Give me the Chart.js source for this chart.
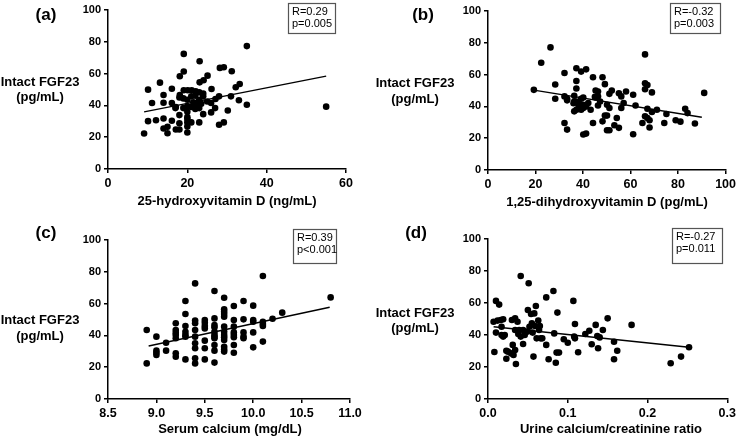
<!DOCTYPE html>
<html>
<head>
<meta charset="utf-8">
<script src="https://cdn.jsdelivr.net/npm/chart.js@4.4.1/dist/chart.umd.min.js"></script>
<style>
  html, body { margin: 0; padding: 0; background: #fff; }
  #wrap { position: relative; width: 739px; height: 438px; }
  #wrap canvas { position: absolute; left: 0; top: 0; }
</style>
</head>
<body>
<div id="wrap">
  <canvas id="chartA" width="739" height="438"></canvas>
  <canvas id="chartB" width="739" height="438"></canvas>
  <canvas id="chartC" width="739" height="438"></canvas>
  <canvas id="chartD" width="739" height="438"></canvas>
</div>
<script>
// ---- data ----
const fgfTicks = [0, 20, 40, 60, 80, 100];

// (a) 25-hydroxyvitamin D vs intact FGF23
const vitD25 = [9.1, 10.1, 10.1, 11.1, 12.1, 13.1, 14, 14, 14, 14, 15, 15, 16.1, 16.1, 16.1, 17.1, 17, 17.1,
  18.1, 18.1, 18, 18, 18, 18, 19.1, 19.1, 19.1, 19, 19, 20.1, 20, 20, 20, 20, 20, 20, 20, 20,
  21.1, 21, 21, 21, 22.1, 22, 22, 22, 22, 23.1, 23.1, 23, 23, 23, 23, 23, 24.1, 24, 24, 25.1, 25,
  26.1, 26, 26, 27.1, 27, 28.2, 28, 28, 29.2, 29.2, 30.2, 31.2, 31, 32.2, 33.2, 33, 35, 35, 55,
  22.5, 21.5, 23.5, 22.5, 24];
const fgfA = [22.3, 49.9, 30.1, 41.5, 30.7, 54.3, 46.5, 41.7, 31.8, 25.5, 26.5, 22.5, 50.5, 41.5, 30.3, 39, 38.3, 24.8,
  58.3, 46.5, 45, 33.9, 28.8, 24.8, 72.4, 61.3, 49.5, 44.4, 38.3, 49.5, 43.6, 39.4, 36, 32.6, 31.4, 29.3, 26.7, 23,
  49.5, 45.7, 39, 29.3, 48.8, 46.1, 41.5, 39, 37.7, 67.8, 54.5, 48.2, 43.6, 40.4, 38.3, 29.3, 55.8, 45.7, 34.5, 58.7, 42.5,
  50.3, 41.5, 35.6, 44, 38.3, 63.6, 45.7, 27.8, 64, 29.3, 36.8, 61.5, 45.7, 51.4, 53.5, 43.2, 77.3, 40.4, 39.2,
  41, 42, 41, 39.5, 47.5];
const vitD25Ticks = [0, 20, 40, 60];
const trendAX = [9.1, 55];
const trendAY = [35.9, 58.4];

// (b) 1,25-dihydroxyvitamin D vs intact FGF23
const vitD125 = [19.3, 22.4, 26.3, 28.3, 28.3, 32.2, 32.2, 32.2, 33.3, 33.3, 33.3, 36.3, 36.3, 36.3,
  37.2, 37.2, 37.2, 37.2, 37.2, 38.2, 38.2, 39.2, 39.2, 39.2, 40.1, 40.1, 40.1, 41.3, 41.3, 41.3, 42.2, 43.2,
  44.2, 44.2, 45.3, 45.3, 46.3, 46.3, 46.3, 47.2, 48.2, 48.2, 49.2, 49.2, 50.1, 50.1, 50.1, 51.1, 51.1, 51.1,
  52.1, 53.2, 54.2, 55.1, 55.1, 56.1, 56.1, 57.1, 58.1, 61.1, 61.1, 62.1, 65, 66.1, 66.1, 66.1, 66.1,
  67.1, 67.1, 67.1, 68, 68, 69, 69, 71.1, 74.2, 75.1, 79, 81, 83, 84, 87.1, 91, 36, 40, 45];
const fgfB = [50.4, 67.5, 77.1, 53.8, 44.8, 61, 46.3, 29.6, 44.8, 43.8, 25.4, 46.7, 43.1, 36.9,
  64, 56, 51.3, 43.1, 37.9, 42.1, 40, 61.9, 44.8, 37.9, 45.6, 39, 22.3, 63.3, 40, 22.9, 42.1, 37.9,
  58.3, 29.6, 50, 45.6, 49.4, 46.3, 40.6, 43.1, 58.3, 30.6, 54, 34.2, 34.2, 25, 41, 47.9, 39, 25,
  50, 28.1, 32.7, 48.3, 26.5, 46.3, 39, 42.1, 49.4, 47.3, 22.5, 40.6, 29.6, 72.7, 54.6, 50.8, 33.8,
  53.5, 38.5, 32.7, 31.3, 26.7, 48.8, 36.5, 37.9, 29.6, 35.2, 31.3, 30.4, 38.5, 35.8, 29.2, 48.5, 42, 41, 46];
const vitD125Ticks = [0, 20, 40, 60, 80, 100];
const trendBX = [19.3, 90];
const trendBY = [50.2, 33.2];

// (c) serum calcium vs intact FGF23
const serumCa = [8.9, 8.9, 9.0, 9.0, 9.0, 9.0, 9.1, 9.1,
  9.2, 9.2, 9.2, 9.2, 9.2, 9.2, 9.2, 9.3, 9.3, 9.3, 9.3, 9.3, 9.3, 9.3,
  9.4, 9.4, 9.4, 9.4, 9.4, 9.4, 9.4, 9.4, 9.4, 9.5, 9.5, 9.5, 9.5, 9.5, 9.5, 9.5,
  9.6, 9.6, 9.6, 9.6, 9.6, 9.6, 9.6, 9.6, 9.6, 9.6, 9.6,
  9.7, 9.7, 9.7, 9.7, 9.7, 9.7, 9.7, 9.7, 9.7, 9.7, 9.7, 9.7, 9.7,
  9.8, 9.8, 9.8, 9.8, 9.8, 9.8, 9.8, 9.8, 9.9, 9.9, 9.9, 9.9, 9.9,
  10.0, 10.0, 10.0, 10.0, 10.0, 10.1, 10.1, 10.1, 10.1, 10.1, 10.2, 10.3, 10.8];
const fgfC = [43.4, 22.4, 39.2, 30.4, 29.1, 27.7, 35.4, 30.4,
  47.6, 43.4, 41.7, 40.3, 38.2, 28.7, 26.6, 61.6, 53.5, 45.9, 42.3, 40.3, 39.2, 24.9,
  72.7, 49.3, 47.6, 43.4, 39.2, 35, 31.9, 25.6, 22.4, 49.7, 48, 45.9, 44.4, 36.7, 31.9, 24.9,
  67.9, 50.7, 46.5, 45.1, 42.3, 40.3, 39.2, 38.2, 34, 30.4, 22.9,
  63.7, 56.4, 54.9, 53.5, 51.8, 45.5, 42.3, 40.3, 38.8, 37.1, 32.9, 31.2, 29.8,
  58.5, 49.7, 45.5, 41.9, 40.3, 38.8, 34, 29.1, 61.6, 50.1, 41.9, 39.2, 38.2,
  58.7, 49.7, 48.6, 41.9, 32.5, 77.4, 48.6, 47.2, 45.9, 36.1, 50.5, 54.3, 63.9];
const serumCaTicks = [8.5, 9.0, 9.5, 10.0, 10.5, 11.0];
const trendCX = [8.92, 10.79];
const trendCY = [33.3, 57.7];

// (d) urine calcium/creatinine ratio vs intact FGF23
const urineRatio = [0.007, 0.008, 0.010, 0.010, 0.012, 0.014, 0.016, 0.017, 0.017, 0.019, 0.019, 0.021,
  0.023, 0.023, 0.025, 0.029, 0.030, 0.031, 0.032, 0.034, 0.034, 0.034, 0.035, 0.037, 0.038, 0.039,
  0.041, 0.041, 0.044, 0.044, 0.046, 0.049, 0.050, 0.051, 0.052, 0.054, 0.055, 0.056, 0.057, 0.058,
  0.059, 0.060, 0.061, 0.063, 0.064, 0.065, 0.066, 0.068, 0.073, 0.073, 0.076, 0.082, 0.083, 0.085,
  0.086, 0.087, 0.089, 0.095, 0.100, 0.107, 0.108, 0.109, 0.109, 0.113, 0.122, 0.127, 0.130, 0.135,
  0.137, 0.138, 0.140, 0.144, 0.150, 0.158, 0.158, 0.162, 0.180, 0.229, 0.242, 0.252];
const fgfD = [48.3, 29.4, 61.3, 41.5, 49, 59, 49.4, 45.2, 40, 49.8, 39, 40,
  30.2, 25.2, 29.6, 28.5, 49.4, 33.8, 27.5, 50.4, 43.1, 30.6, 21.9, 48.3, 40.6, 43.1,
  76.9, 39, 43.1, 34.4, 40, 42.1, 55.6, 72.3, 45.2, 53.1, 47.3, 41.5, 26.5, 53.5,
  45.6, 58.1, 37.9, 49, 43.1, 45.6, 37.9, 37.9, 33.8, 63.5, 24.8, 67.5, 41, 22.7,
  29, 54, 29, 37.3, 35.2, 61.3, 39, 46.9, 37.9, 29.2, 40.6, 42.7, 34.2, 46.3,
  39.4, 31.7, 38.5, 43.1, 50.4, 24.8, 35.8, 30.2, 46.3, 22.3, 26.5, 32.3];
const urineRatioTicks = [0.0, 0.1, 0.2, 0.3];
const trendDX = [0.007, 0.252];
const trendDY = [45.2, 32.3];

// ---- drawing ----
Chart.defaults.font.family = 'Arial, "Liberation Sans", Helvetica, sans-serif';
Chart.defaults.color = '#000';

const Y_AXIS_W = 40;
const X_AXIS_H = 30;
const W = 739, H = 438;

// per-panel text overlay (labels, axis titles, R/p box)
const panelText = {
  id: 'panelText',
  afterDraw(chart, args, o) {
    const ctx = chart.ctx;
    ctx.save();
    ctx.fillStyle = '#000';
    ctx.textBaseline = 'middle';
    ctx.textAlign = 'center';
    ctx.font = 'bold 17px Arial, "Liberation Sans", sans-serif';
    ctx.fillText(o.tag, o.tagX, o.tagY);
    ctx.font = 'bold 13px Arial, "Liberation Sans", sans-serif';
    ctx.fillText('Intact FGF23', o.yTitleX, o.yTitleY1);
    ctx.fillText('(pg/mL)', o.yTitleX, o.yTitleY2);
    ctx.fillText(o.xTitle, o.xTitleX, o.xTitleY);
    const b = o.box;
    ctx.strokeStyle = '#555';
    ctx.lineWidth = 1.2;
    ctx.strokeRect(b[0] + 0.5, b[1] + 0.5, b[2] - b[0], b[3] - b[1]);
    ctx.textAlign = 'left';
    ctx.font = '11px Arial, "Liberation Sans", sans-serif';
    ctx.fillText(o.r, b[0] + 4, b[1] + 9);
    ctx.fillText(o.p, b[0] + 4, b[1] + 21);
    ctx.restore();
  }
};

function makePanel(id, xs, ys, trendX, trendY, xTicks, area, digits, text) {
  const axisLine = { display: true, drawOnChartArea: false, drawTicks: true, tickLength: 4, color: '#000', lineWidth: 1.5 };
  new Chart(document.getElementById(id), {
    type: 'scatter',
    data: {
      datasets: [
        {
          data: xs.map((x, i) => ({ x: x, y: ys[i] })),
          backgroundColor: '#000',
          borderWidth: 0,
          pointRadius: 3.3,
          clip: false
        },
        {
          data: trendX.map((x, i) => ({ x: x, y: trendY[i] })),
          showLine: true,
          borderColor: '#000',
          borderWidth: 1.4,
          pointRadius: 0,
          clip: false
        }
      ]
    },
    options: {
      responsive: false,
      animation: false,
      events: [],
      layout: {
        padding: {
          left: area.left - Y_AXIS_W,
          top: area.top,
          right: W - area.right,
          bottom: H - area.bottom - X_AXIS_H
        }
      },
      scales: {
        x: {
          type: 'linear',
          min: xTicks[0],
          max: xTicks[xTicks.length - 1],
          afterFit: s => { s.height = X_AXIS_H; },
          afterBuildTicks: s => { s.ticks = xTicks.map(v => ({ value: v })); },
          grid: axisLine,
          border: { display: true, color: '#000', width: 1.5 },
          ticks: {
            padding: 3,
            maxRotation: 0,
            autoSkip: false,
            font: { size: 12.5, weight: 'bold' },
            callback: v => v.toFixed(digits)
          }
        },
        y: {
          type: 'linear',
          min: fgfTicks[0],
          max: fgfTicks[fgfTicks.length - 1],
          afterFit: s => { s.width = Y_AXIS_W; },
          afterBuildTicks: s => { s.ticks = fgfTicks.map(v => ({ value: v })); },
          grid: axisLine,
          border: { display: true, color: '#000', width: 1.5 },
          ticks: {
            padding: 3,
            autoSkip: false,
            font: { size: 11, weight: 'bold' }
          }
        }
      },
      plugins: {
        legend: { display: false },
        tooltip: { enabled: false },
        panelText: text
      }
    },
    plugins: [panelText]
  });
}

makePanel('chartA', vitD25, fgfA, trendAX, trendAY, vitD25Ticks,
  { left: 108, top: 10, right: 346, bottom: 169 }, 0,
  { tag: '(a)', tagX: 46, tagY: 15, yTitleX: 40, yTitleY1: 82, yTitleY2: 97,
    xTitle: '25-hydroxyvitamin D (ng/mL)', xTitleX: 227, xTitleY: 201,
    box: [288, 3, 335, 33], r: 'R=0.29', p: 'p=0.005' });

makePanel('chartB', vitD125, fgfB, trendBX, trendBY, vitD125Ticks,
  { left: 488, top: 11, right: 728, bottom: 170 }, 0,
  { tag: '(b)', tagX: 423, tagY: 15, yTitleX: 415, yTitleY1: 83, yTitleY2: 99,
    xTitle: '1,25-dihydroxyvitamin D (pg/mL)', xTitleX: 607, xTitleY: 202,
    box: [670, 3, 720, 33], r: 'R=-0.32', p: 'p=0.003' });

makePanel('chartC', serumCa, fgfC, trendCX, trendCY, serumCaTicks,
  { left: 108, top: 240, right: 350, bottom: 399 }, 1,
  { tag: '(c)', tagX: 46, tagY: 233, yTitleX: 40, yTitleY1: 320, yTitleY2: 336,
    xTitle: 'Serum calcium (mg/dL)', xTitleX: 230, xTitleY: 429,
    box: [293, 229, 336, 263], r: 'R=0.39', p: 'p<0.001' });

makePanel('chartD', urineRatio, fgfD, trendDX, trendDY, urineRatioTicks,
  { left: 488, top: 239, right: 729, bottom: 399 }, 1,
  { tag: '(d)', tagX: 416, tagY: 233, yTitleX: 415, yTitleY1: 313, yTitleY2: 328,
    xTitle: 'Urine calcium/creatinine ratio', xTitleX: 611, xTitleY: 429,
    box: [672, 228, 722, 263], r: 'R=-0.27', p: 'p=0.011' });
</script>
</body>
</html>
